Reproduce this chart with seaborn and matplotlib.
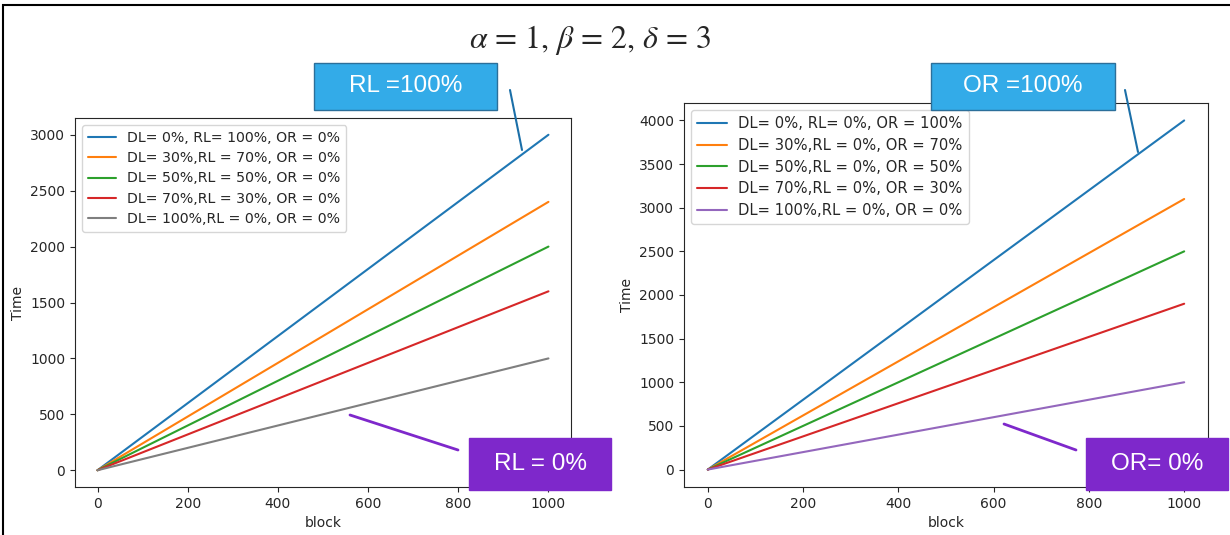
import seaborn as sns
import pandas as pd
import matplotlib.pyplot as plt
from matplotlib.patches import Rectangle
from matplotlib.lines import Line2D

# data: each scenario is a straight line from block 0 to block 1000
blocks = [0, 1000]

rl_labels = ["DL= 0%, RL= 100%, OR = 0%",
             "DL= 30%,RL = 70%, OR = 0%",
             "DL= 50%,RL = 50%, OR = 0%",
             "DL= 70%,RL = 30%, OR = 0%",
             "DL= 100%,RL = 0%, OR = 0%"]
rl_end_time = [3000, 2400, 2000, 1600, 1000]

or_labels = ["DL= 0%, RL= 0%, OR = 100%",
             "DL= 30%,RL = 0%, OR = 70%",
             "DL= 50%,RL = 0%, OR = 50%",
             "DL= 70%,RL = 0%, OR = 30%",
             "DL= 100%,RL = 0%, OR = 0%"]
or_end_time = [4000, 3100, 2500, 1900, 1000]

rl_colors = ["#1f77b4", "#ff7f0e", "#2ca02c", "#d62728", "#7f7f7f"]
or_colors = ["#1f77b4", "#ff7f0e", "#2ca02c", "#d62728", "#9467bd"]


def to_frame(labels, ends):
    rows = []
    for lab, end in zip(labels, ends):
        rows.append({"block": blocks[0], "Time": 0, "case": lab})
        rows.append({"block": blocks[1], "Time": end, "case": lab})
    return pd.DataFrame(rows)


sns.set_style("ticks")
plt.rcParams["mathtext.fontset"] = "stix"

W, H = 1230, 535
fig = plt.figure(figsize=(W / 100, H / 100), dpi=100)

ax1 = fig.add_axes([75 / W, 1 - 487 / H, (571 - 75) / W, (487 - 118) / H])
ax2 = fig.add_axes([684 / W, 1 - 487 / H, (1208 - 684) / W, (487 - 103) / H])

for ax, labels, ends, colors, lfs in [(ax1, rl_labels, rl_end_time, rl_colors, 10.2),
                                      (ax2, or_labels, or_end_time, or_colors, 10.6)]:
    df = to_frame(labels, ends)
    sns.lineplot(data=df, x="block", y="Time", hue="case", palette=colors,
                 hue_order=labels, ax=ax, linewidth=1.5)
    ax.legend(loc="upper left", fontsize=lfs, handlelength=2, labelspacing=0.45)
    ax.set_xlabel("block", fontsize=10)
    ax.set_ylabel("Time", fontsize=10)
    ax.tick_params(labelsize=10)
    ax.set_xticks([0, 200, 400, 600, 800, 1000])
    for s in ax.spines.values():
        s.set_linewidth(0.8)

# title
fig.text(590 / W, 1 - 40 / H,
         r"$\alpha$ = 1, $\beta$ = 2, $\delta$ = 3",
         ha="center", va="center", fontsize=23, family="STIXGeneral")

# callout boxes
blue = "#33ABE8"
purple = "#7E28CB"


def callout(x0, y0, x1, y1, text, color, line_from, line_to, line_color, lw):
    fig.add_artist(Line2D([line_from[0] / W, line_to[0] / W],
                          [1 - line_from[1] / H, 1 - line_to[1] / H],
                          color=line_color, lw=lw, transform=fig.transFigure))
    fig.add_artist(Rectangle((x0 / W, 1 - y1 / H), (x1 - x0) / W, (y1 - y0) / H,
                             transform=fig.transFigure, facecolor=color,
                             edgecolor="#2b6f9a" if color == blue else color,
                             lw=1, zorder=5))
    fig.text((x0 + x1) / 2 / W, 1 - (y0 + y1) / 2 / H, text, color="white",
             ha="center", va="center", fontsize=17.5, family="Liberation Sans",
             zorder=6)


callout(314, 63, 497, 110, "RL =100%", blue, (510, 90), (522, 150), "#1b6fa8", 1.5)
callout(931, 63, 1115, 110, "OR =100%", blue, (1125, 90), (1138, 152), "#1b6fa8", 1.5)
callout(469, 438, 611, 490, "RL = 0%", purple, (350, 415), (458, 450), purple, 2)
callout(1086, 438, 1228, 490, "OR= 0%", purple, (1004, 424), (1076, 450), purple, 2)

# outer frame
fig.add_artist(Rectangle((3 / W, -0.01), 1.02, 1 - 5 / H + 0.01,
                         transform=fig.transFigure, fill=False,
                         edgecolor="black", lw=1.5))

plt.savefig("out.png", dpi=100)
